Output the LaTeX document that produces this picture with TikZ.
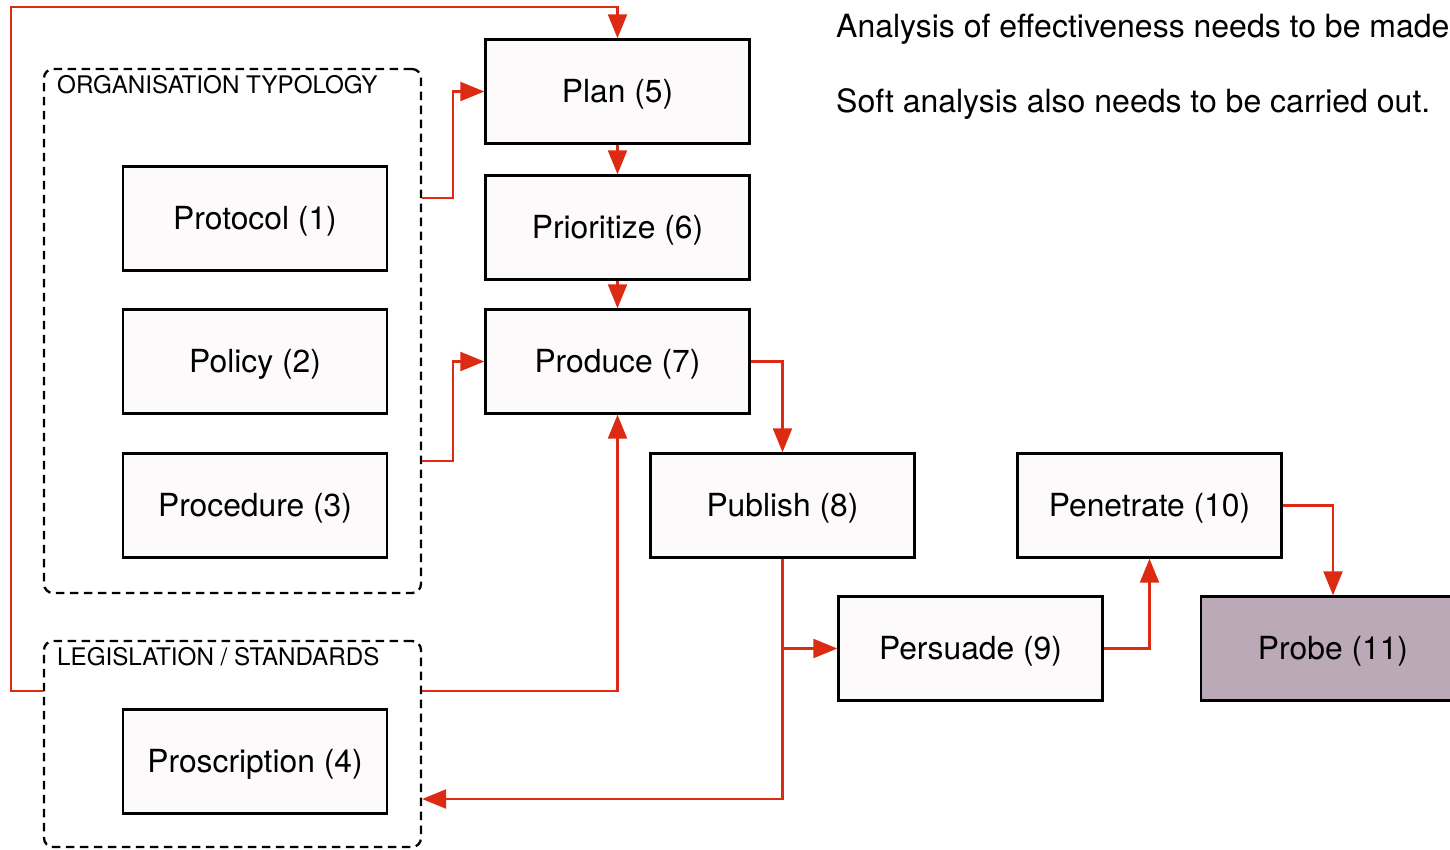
\documentclass[tikz,border=0pt]{standalone}
\usepackage{fontspec}
\setmainfont{TeX Gyre Heros}
\usetikzlibrary{arrows.meta}
\definecolor{linkred}{RGB}{221,42,18}
\definecolor{boxfill}{RGB}{253,250,252}
\definecolor{probefill}{RGB}{187,169,183}
\tikzset{
  stage/.style={draw=black, line width=2.4pt, fill=boxfill, minimum width=264pt,
    minimum height=104pt, inner sep=0pt, text height=23pt, text depth=2pt,
    font=\fontsize{31.8}{36}\selectfont},
  group/.style={draw=black, line width=2.3pt, dash pattern=on 8.5pt off 5.5pt,
    rounded corners=9pt, inner sep=0pt},
  grouplabel/.style={anchor=base west, inner sep=0pt,
    font=\fontsize{24.2}{28}\selectfont},
  note/.style={anchor=base west, inner sep=0pt,
    font=\fontsize{32}{36}\selectfont},
  conn/.style={draw=linkred, line width=2.3pt,
    -{Triangle[length=24pt,width=19pt]}}
}
\begin{document}
\begin{tikzpicture}[x=1pt,y=-1pt]
\useasboundingbox (0,0) rectangle (1450,849);
\clip (0,0) rectangle (1450,849);

% dashed groups
\node[group, minimum width=377pt, minimum height=524pt] (org) at (232.5,331) {};
\node[group, minimum width=377pt, minimum height=206pt] (leg) at (232.5,744) {};
\node[grouplabel] (orglabel) at (57,93) {ORGANISATION TYPOLOGY};
\node[grouplabel] (leglabel) at (57,665) {LEGISLATION / STANDARDS};

% stages
\node[stage] (protocol) at (255,218.5) {Protocol (1)};
\node[stage] (policy) at (255,361.5) {Policy (2)};
\node[stage] (procedure) at (255,505.5) {Procedure (3)};
\node[stage] (proscription) at (255,761.5) {Proscription (4)};
\node[stage] (plan) at (617.5,91.5) {Plan (5)};
\node[stage] (prio) at (617.5,227.5) {Prioritize (6)};
\node[stage] (prod) at (617.5,361.5) {Produce (7)};
\node[stage] (publish) at (782.5,505.5) {Publish (8)};
\node[stage] (persuade) at (970.5,648.5) {Persuade (9)};
\node[stage] (penetrate) at (1149.5,505.5) {Penetrate (10)};
\node[stage, fill=probefill] (probe) at (1333,648.5) {Probe (11)};

% notes
\node[note] (note1) at (836,37) {Analysis of effectiveness needs to be made};
\node[note] (note2) at (836,112) {Soft analysis also needs to be carried out.};

% connectors
\draw[conn] ([yshift=-51pt]leg.north west) -| (11,7) -| (plan.north);
\draw[conn] ([yshift=-130pt]org.north east) -- ++(31,0) |- (plan.west);
\draw[conn] ([yshift=-393pt]org.north east) -- ++(31,0) |- (prod.west);
\draw[conn] (plan) -- (prio);
\draw[conn] (prio) -- (prod);
\draw[conn] ([yshift=-51pt]leg.north east) -| (prod.south);
\draw[conn] (prod.east) -| (publish.north);
\draw[conn] (publish.south) |- (persuade.west);
\draw[conn] (publish.south) |- ([yshift=-55pt]leg.east);
\draw[conn] (persuade.east) -| (penetrate.south);
\draw[conn] (penetrate.east) -| (probe.north);
\end{tikzpicture}
\end{document}
